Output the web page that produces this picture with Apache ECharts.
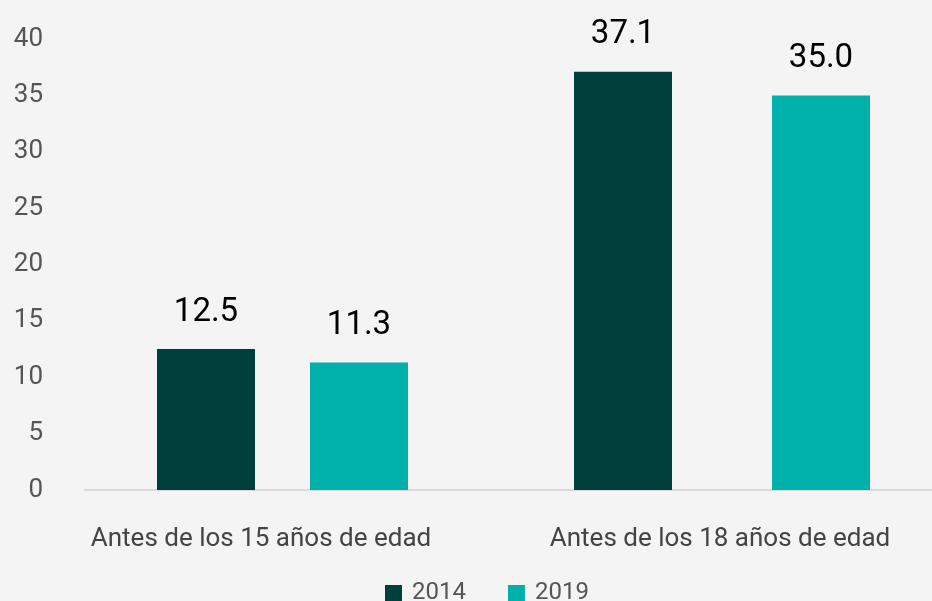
<!DOCTYPE html>
<html>
<head>
<meta charset="utf-8">
<script src="https://cdn.jsdelivr.net/npm/echarts@6/dist/echarts.min.js"></script>
<style>
  html, body { margin: 0; padding: 0; background: #f4f4f4; }
  #main { width: 932px; height: 601px; }
</style>
</head>
<body>
<div id="main"></div>
<script>
// datos
var categorias = ['Antes de los 15 años de edad', 'Antes de los 18 años de edad'];
var anios = ['2014', '2019'];
var valores2014 = [12.5, 37.1];
var valores2019 = [11.3, 35.0];
var colores = ['#003f3b', '#00b0ab'];

var chart = echarts.init(document.getElementById('main'));

// el gráfico original no reparte las barras de forma uniforme,
// así que cada serie va en su propia rejilla (mismo rango vertical);
// con boundaryGap false cada categoría cae justo en un borde de la rejilla
var gridTop = 39, gridBottom = 111;
var hiddenY = { type: 'value', min: 0, max: 40, show: false };
function hiddenX(grid) {
  return { type: 'category', data: categorias, gridIndex: grid, boundaryGap: false, show: false };
}

function etiqueta() {
  return {
    show: true,
    position: 'top',
    distance: 20,
    fontSize: 33,
    fontWeight: 'normal',
    color: '#000',
    formatter: function (p) { return p.value.toFixed(1); }
  };
}

var option = {
  backgroundColor: '#f4f4f4',
  textStyle: { fontFamily: 'Roboto' },
  color: colores,
  legend: {
    data: anios,
    left: 380,
    top: 576,
    itemWidth: 17,
    itemHeight: 16,
    itemGap: 42,
    icon: 'rect',
    textStyle: { fontSize: 24, color: '#555', fontFamily: 'Roboto', padding: [0, 0, 0, 5] }
  },
  grid: [
    { left: 85, right: 0, top: gridTop, bottom: gridBottom },        // eje y + línea base
    { left: 206, right: 309, top: gridTop, bottom: gridBottom },     // 2014
    { left: 359, right: 111, top: gridTop, bottom: gridBottom },     // 2019
    { left: 261, right: 212, top: gridTop, bottom: gridBottom }      // etiquetas categoría
  ],
  xAxis: [
    {
      type: 'category',
      data: categorias,
      gridIndex: 0,
      axisLine: { lineStyle: { color: '#d9d9d9', width: 2 } },
      axisTick: { show: false },
      axisLabel: { show: false }
    },
    hiddenX(1),
    hiddenX(2),
    {
      type: 'category',
      data: categorias,
      gridIndex: 3,
      boundaryGap: false,
      axisLine: { show: false },
      axisTick: { show: false },
      axisLabel: { fontSize: 26, color: '#444', margin: 36 }
    }
  ],
  yAxis: [
    {
      type: 'value',
      gridIndex: 0,
      min: 0,
      max: 40,
      interval: 5,
      axisLine: { show: false },
      axisTick: { show: false },
      splitLine: { show: false },
      axisLabel: { fontSize: 26, color: '#555', margin: 42 }
    },
    Object.assign({ gridIndex: 1 }, hiddenY),
    Object.assign({ gridIndex: 2 }, hiddenY),
    Object.assign({ gridIndex: 3 }, hiddenY)
  ],
  series: [
    {
      name: anios[0],
      type: 'bar',
      xAxisIndex: 1,
      yAxisIndex: 1,
      data: valores2014,
      barWidth: 98,
      label: etiqueta()
    },
    {
      name: anios[1],
      type: 'bar',
      xAxisIndex: 2,
      yAxisIndex: 2,
      data: valores2019,
      barWidth: 98,
      label: etiqueta()
    }
  ]
};

chart.setOption(option);
</script>
</body>
</html>
